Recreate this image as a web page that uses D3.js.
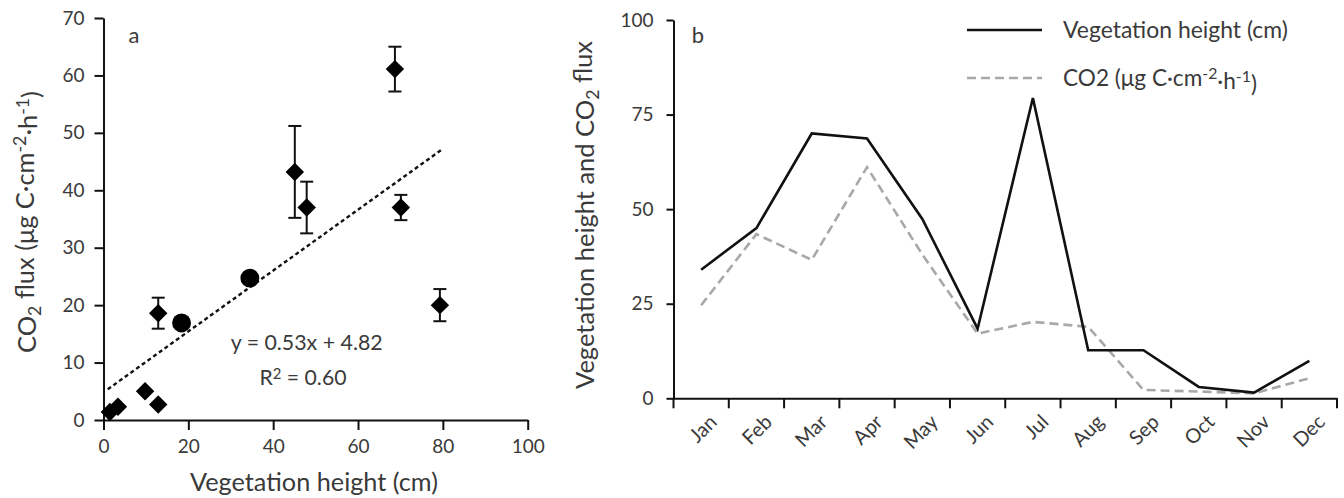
<!DOCTYPE html>
<html>
<head>
<meta charset="utf-8">
<script src="https://cdn.jsdelivr.net/npm/d3@7"></script>
<style>
body { margin: 0; background: #fff; }
text { font-family: Lato, "Open Sans", sans-serif; fill: #3a3a3a; }
</style>
</head>
<body>
<svg id="chart" width="1344" height="498"></svg>
<script>
// panel a: flux vs vegetation height
const vegHeight = [1.5, 3.4, 9.8, 12.9, 12.9, 18.4, 34.5, 45.1, 47.9, 68.7, 70.1, 79.3];
const co2Flux   = [1.4, 2.3, 5.0, 2.7, 18.6, 16.9, 24.7, 43.2, 37.0, 61.1, 37.0, 20.0];
const co2Err    = [0, 0, 0, 0, 2.7, 0, 0, 8.0, 4.5, 3.9, 2.2, 2.8];
const roundPts  = [5, 6]; // these two look like dots, not diamonds
const fitSlope = 0.53, fitIntercept = 4.82, fitR2 = "0.60";
const fitFrom = 1, fitTo = 80;
const xTicksA = [0, 20, 40, 60, 80, 100];
const yTicksA = [0, 10, 20, 30, 40, 50, 60, 70];

// panel b: monthly
const months = ["Jan", "Feb", "Mar", "Apr", "May", "Jun", "Jul", "Aug", "Sep", "Oct", "Nov", "Dec"];
const monthHeight = [34, 45, 70, 68.7, 47.4, 18.4, 79.4, 12.7, 12.7, 3.0, 1.5, 9.9];
const monthCO2    = [24.6, 43.4, 36.6, 61.1, 38, 17.1, 20.2, 18.9, 2.2, 1.8, 1.3, 5.3];
const yTicksB = [0, 25, 50, 75, 100];

const svg = d3.select("#chart");
const tickFont = 19;

// fit a text element to a target width by changing its font size
function fitWidth(sel, w) {
    const fs = parseFloat(sel.attr("font-size"));
    const len = sel.node().getComputedTextLength();
    sel.attr("font-size", fs * w / len);
}

function styleAxis(g) {
    g.select(".domain").attr("stroke", "#111").attr("stroke-width", 2);
    g.selectAll(".tick line").attr("stroke", "#111").attr("stroke-width", 2);
    g.selectAll(".tick text").attr("font-size", tickFont).attr("fill", "#3a3a3a")
        .style("font-family", "Lato, sans-serif");
}

// ---------- panel a ----------
const xA = d3.scaleLinear().domain([0, 100]).range([103.5, 527.7]);
const yA = d3.scaleLinear().domain([0, 70]).range([420, 18]);

svg.append("g").attr("transform", "translate(0,420)")
    .call(d3.axisBottom(xA).tickValues(xTicksA).tickSize(10).tickSizeOuter(0).tickPadding(10))
    .call(styleAxis);
svg.append("g").attr("transform", "translate(103.5,0)")
    .call(d3.axisLeft(yA).tickValues(yTicksA).tickSize(9).tickSizeOuter(0).tickPadding(10))
    .call(styleAxis);

// regression line
svg.append("line")
    .attr("x1", xA(fitFrom)).attr("y1", yA(fitSlope * fitFrom + fitIntercept))
    .attr("x2", xA(fitTo)).attr("y2", yA(fitSlope * fitTo + fitIntercept))
    .attr("stroke", "#111").attr("stroke-width", 2.4).attr("stroke-dasharray", "4,3");

// error bars
const pts = vegHeight.map((h, i) => ({ h: h, f: co2Flux[i], e: co2Err[i], i: i }));
const eb = svg.append("g").attr("stroke", "#111").attr("stroke-width", 2);
pts.filter(d => d.e > 0).forEach(d => {
    eb.append("line").attr("x1", xA(d.h)).attr("x2", xA(d.h))
        .attr("y1", yA(d.f - d.e)).attr("y2", yA(d.f + d.e));
    [d.f - d.e, d.f + d.e].forEach(v => {
        eb.append("line").attr("x1", xA(d.h) - 6.5).attr("x2", xA(d.h) + 6.5)
            .attr("y1", yA(v)).attr("y2", yA(v));
    });
});

// markers
svg.append("g").selectAll("path").data(pts).join("path")
    .attr("transform", d => `translate(${xA(d.h)},${yA(d.f)}) rotate(45)`)
    .attr("d", d => roundPts.includes(d.i)
        ? d3.symbol(d3.symbolCircle, 280)()
        : d3.symbol(d3.symbolSquare, 170)())
    .attr("fill", "#000");

svg.append("text").attr("x", 134).attr("y", 35).attr("dy", "0.35em")
    .attr("text-anchor", "middle").attr("font-size", 22).text("a");

const eq = svg.append("text").attr("x", 306.7).attr("y", 343).attr("dy", "0.35em")
    .attr("text-anchor", "middle").attr("font-size", 18)
    .text(`y = ${fitSlope}x + ${fitIntercept}`);
fitWidth(eq, 152);

const r2 = svg.append("text").attr("x", 303).attr("y", 378).attr("dy", "0.35em")
    .attr("text-anchor", "middle").attr("font-size", 18);
r2.append("tspan").text("R");
r2.append("tspan").attr("dy", "-0.4em").attr("font-size", "0.7em").text("2");
r2.append("tspan").attr("dy", "0.28em").text(" = " + fitR2);
fitWidth(r2, 87);

const xtA = svg.append("text").attr("x", 314).attr("y", 482).attr("dy", "0.35em")
    .attr("text-anchor", "middle").attr("font-size", 22).text("Vegetation height (cm)");
fitWidth(xtA, 248);

const ytA = svg.append("text").attr("transform", "translate(27,222) rotate(-90)")
    .attr("dy", "0.35em").attr("text-anchor", "middle").attr("font-size", 20);
ytA.append("tspan").text("CO");
ytA.append("tspan").attr("dy", "0.3em").attr("font-size", "0.7em").text("2");
ytA.append("tspan").attr("dy", "-0.3em").text(" flux (μg C·cm");
ytA.append("tspan").attr("dy", "-0.45em").attr("font-size", "0.7em").text("-2");
ytA.append("tspan").attr("dy", "0.45em").text("·h");
ytA.append("tspan").attr("dy", "-0.45em").attr("font-size", "0.7em").text("-1");
ytA.append("tspan").attr("dy", "0.45em").text(")");
fitWidth(ytA, 262);

// ---------- panel b ----------
const xB = d3.scaleBand().domain(months).range([673.5, 1337]);
const yB = d3.scaleLinear().domain([0, 100]).range([398.3, 20]);

const gxB = svg.append("g").attr("transform", "translate(0,398.3)")
    .call(d3.axisBottom(xB).tickSize(0).tickSizeOuter(0).tickFormat(""))
    .call(styleAxis);
// ticks sit on the category boundaries
gxB.selectAll(".bound").data(months.map(m => xB(m)).concat([xB.range()[1]])).join("line")
    .attr("x1", d => d).attr("x2", d => d).attr("y1", 0).attr("y2", 10)
    .attr("stroke", "#111").attr("stroke-width", 2);
gxB.selectAll(".mlab").data(months).join("text")
    .attr("transform", m => `translate(${xB(m) + xB.bandwidth() / 2 + 12},${20}) rotate(-45)`)
    .attr("text-anchor", "end").attr("dy", "0.35em").attr("font-size", 20).text(m => m);

svg.append("g").attr("transform", "translate(673.5,0)")
    .call(d3.axisLeft(yB).tickValues(yTicksB).tickSize(7).tickSizeOuter(0).tickPadding(13))
    .call(styleAxis);

const xm = m => xB(m) + xB.bandwidth() / 2;
const monthLine = d3.line().x((d, i) => xm(months[i])).y(d => yB(d));

svg.append("path").datum(monthCO2).attr("d", monthLine)
    .attr("fill", "none").attr("stroke", "#a8a8a8").attr("stroke-width", 2.6)
    .attr("stroke-dasharray", "9,5");
svg.append("path").datum(monthHeight).attr("d", monthLine)
    .attr("fill", "none").attr("stroke", "#111").attr("stroke-width", 2.6);

svg.append("text").attr("x", 698).attr("y", 35).attr("dy", "0.35em")
    .attr("text-anchor", "middle").attr("font-size", 22).text("b");

// legend
svg.append("line").attr("x1", 967).attr("x2", 1042).attr("y1", 30).attr("y2", 30)
    .attr("stroke", "#111").attr("stroke-width", 2.6);
svg.append("line").attr("x1", 967).attr("x2", 1042).attr("y1", 78).attr("y2", 78)
    .attr("stroke", "#a8a8a8").attr("stroke-width", 2.6).attr("stroke-dasharray", "9,5");
const lg1 = svg.append("text").attr("x", 1063).attr("y", 30).attr("dy", "0.35em")
    .attr("font-size", 19).text("Vegetation height (cm)");
fitWidth(lg1, 225);
const lg2 = svg.append("text").attr("x", 1063).attr("y", 78).attr("dy", "0.35em")
    .attr("font-size", 19);
lg2.append("tspan").text("CO2 (μg C·cm");
lg2.append("tspan").attr("dy", "-0.45em").attr("font-size", "0.7em").text("-2");
lg2.append("tspan").attr("dy", "0.45em").text("·h");
lg2.append("tspan").attr("dy", "-0.45em").attr("font-size", "0.7em").text("-1");
lg2.append("tspan").attr("dy", "0.45em").text(")");
fitWidth(lg2, 194);

const ytB = svg.append("text").attr("transform", "translate(585,215) rotate(-90)")
    .attr("dy", "0.35em").attr("text-anchor", "middle").attr("font-size", 22);
ytB.append("tspan").text("Vegetation height and CO");
ytB.append("tspan").attr("dy", "0.3em").attr("font-size", "0.7em").text("2");
ytB.append("tspan").attr("dy", "-0.3em").text(" flux");
fitWidth(ytB, 348);
</script>
</body>
</html>
